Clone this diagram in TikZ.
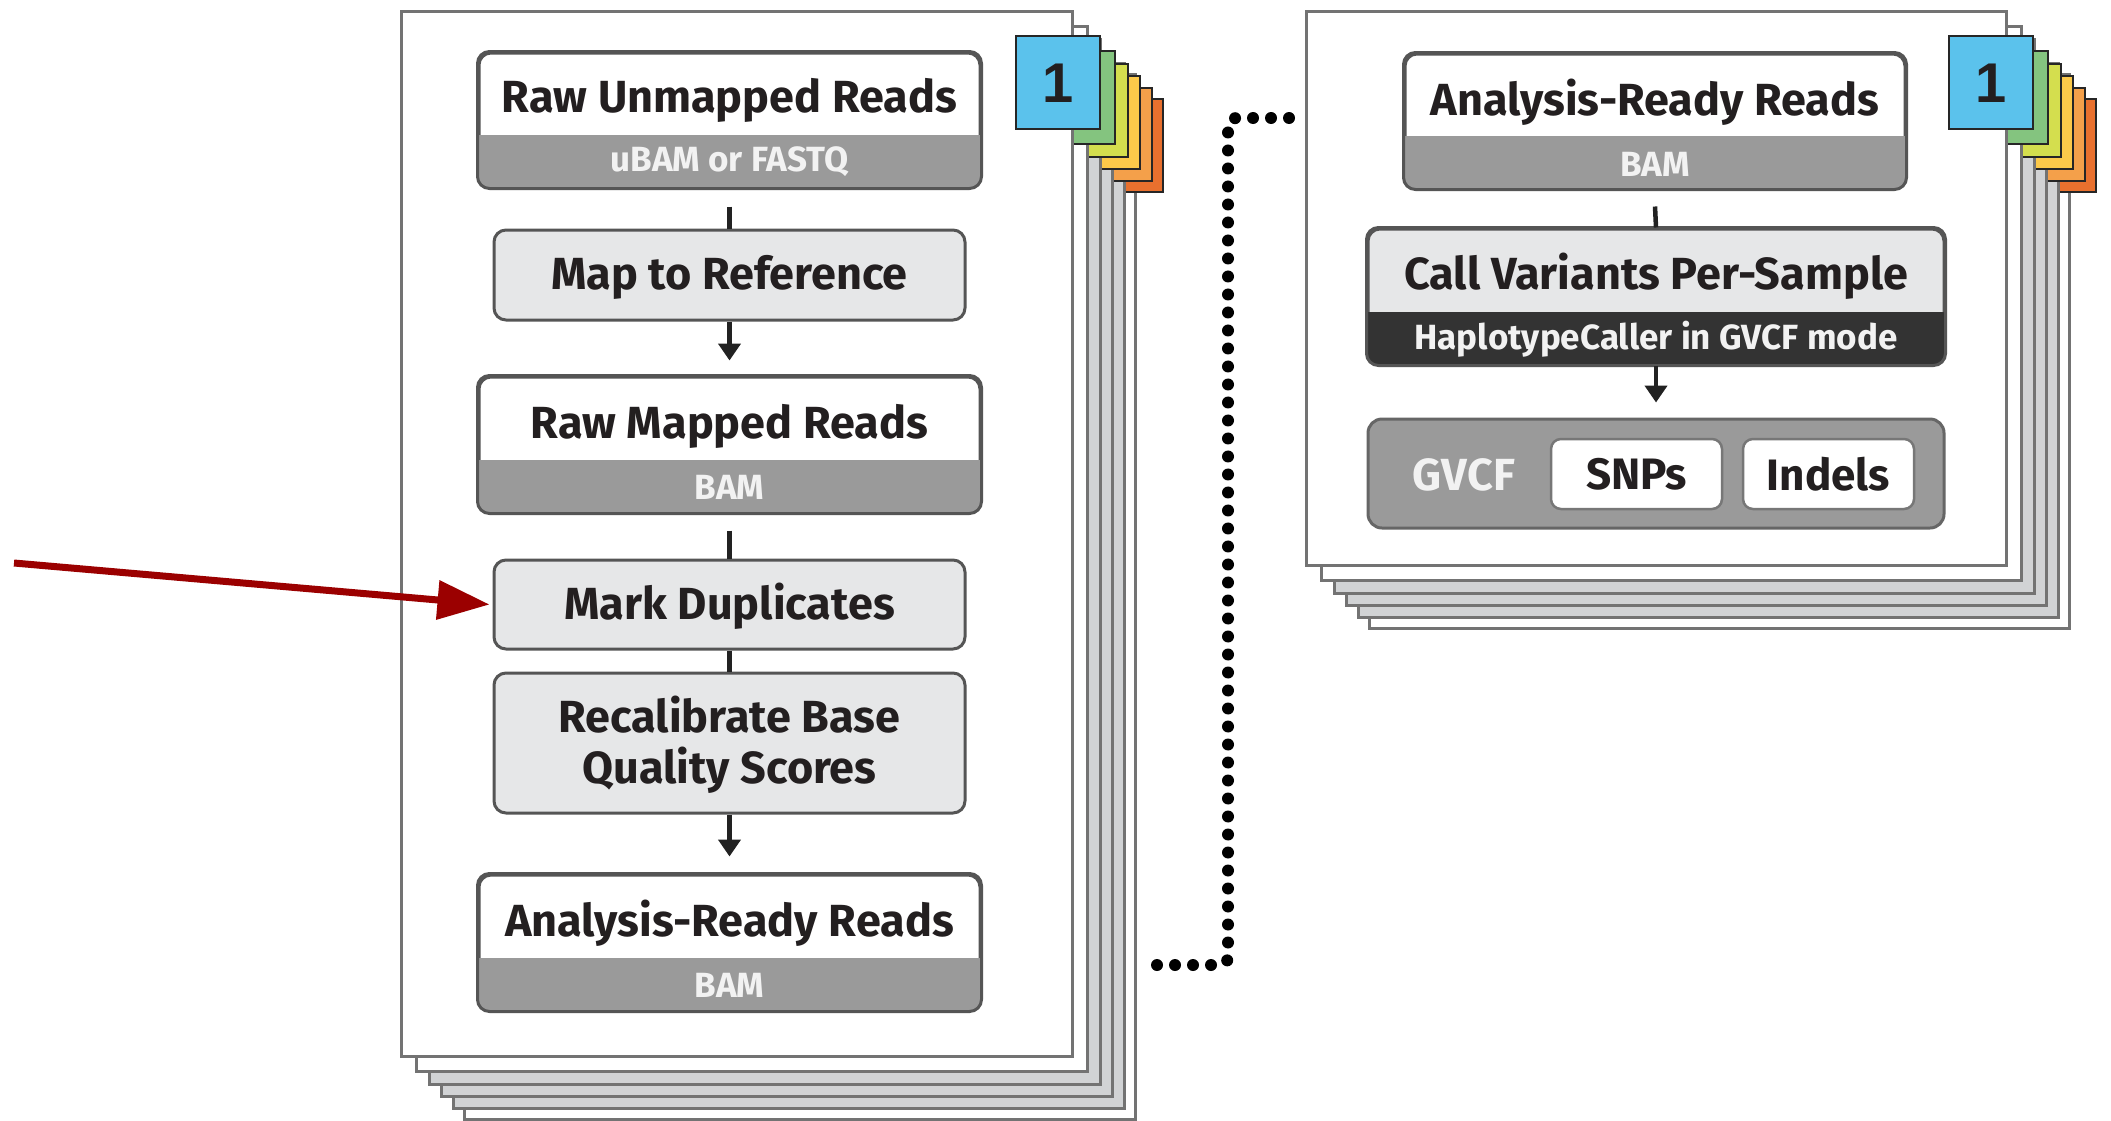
\documentclass[tikz,border=0pt]{standalone}
\usepackage{fontspec}
\setmainfont{Fira Sans}
\newfontfamily\numfont{Liberation Sans}
\usetikzlibrary{arrows.meta}
\definecolor{pageborder}{HTML}{737373}
\definecolor{pagegray}{HTML}{D1D3D5}
\definecolor{boxborder}{HTML}{555555}
\definecolor{procgray}{HTML}{E6E7E8}
\definecolor{bandgray}{HTML}{9A9A9A}
\definecolor{banddark}{HTML}{333333}
\definecolor{textdark}{HTML}{231F20}
\definecolor{connc}{HTML}{222222}
\definecolor{tabA}{HTML}{5BC2EC}
\definecolor{tabB}{HTML}{84C47F}
\definecolor{tabC}{HTML}{D4DE4E}
\definecolor{tabD}{HTML}{FCC94A}
\definecolor{tabE}{HTML}{F4A04A}
\definecolor{tabF}{HTML}{E8702E}
\definecolor{redarr}{HTML}{9B0000}
\tikzset{
  pagebox/.style={draw=pageborder, line width=3pt},
  tabbox/.style={draw=black!85, line width=2.5pt},
  wbox/.style={draw=boxborder, line width=3pt, rounded corners=12pt, fill=white, inner sep=0pt},
  pbox/.style={draw=boxborder, line width=3pt, rounded corners=12pt, fill=procgray, inner sep=0pt},
  gbox/.style={draw=boxborder!90, line width=3pt, rounded corners=14pt, fill=bandgray, inner sep=0pt},
  sbox/.style={draw=boxborder!80, line width=2.5pt, rounded corners=10pt, fill=white, inner sep=0pt,
    minimum width=171pt, minimum height=70pt, font=\fontsize{44}{50}\selectfont\bfseries, text=textdark},
  title/.style={font=\fontsize{45}{51}\selectfont\bfseries, text=textdark, inner sep=0pt, align=center},
  bandtxt/.style={font=\fontsize{35}{40}\selectfont\bfseries, text=white!95!black, inner sep=0pt},
  numtxt/.style={font=\numfont\bfseries\fontsize{56}{56}\selectfont, text=textdark, inner sep=0pt},
  conn/.style={draw=connc, line width=4.5pt},
  arr/.style={conn, -{Triangle[length=17pt,width=22pt]}},
  dotline/.style={draw=black, line width=12pt, line cap=round, dash pattern=on 0pt off 18pt, rounded corners=8pt},
  redarrow/.style={draw=redarr, line width=7pt, -{Triangle[length=52pt,width=38pt]}},
}
\newcommand\mybandfill[3]{%
  \coordinate (bt) at (0,#2);
  \begin{scope}
    \clip[rounded corners=12pt] (#1.south west) rectangle (#1.north east);
    \fill[#3] (#1.south west) rectangle (#1.east |- bt);
  \end{scope}
  \draw[draw=boxborder, line width=3pt, rounded corners=12pt] (#1.south west) rectangle (#1.north east);}
\begin{document}
\begin{tikzpicture}[x=1pt, y=-1pt]
\useasboundingbox (0,0) rectangle (2111,1120);
\fill[white] (0,0) rectangle (2111,1120);

% ---- left stack of pages
\foreach \d/\fc/\tc in {63/white/tabF, 52/pagegray/tabE, 40/pagegray/tabD, 28/pagegray/tabC, 15/white/tabB, 0/white/tabA} {
  \draw[pagebox, fill=\fc] ({401+\d},{11+\d}) rectangle ({1072+\d},{1056+\d});
  \draw[tabbox, fill=\tc] ({1016+\d},{36+\d}) rectangle ({1100+\d},{129+\d});
}
\node[numtxt] (numL) at (1058,83) {1};

% ---- right stack of pages
\foreach \d/\fc/\tc in {63/white/tabF, 52/pagegray/tabE, 40/pagegray/tabD, 28/pagegray/tabC, 15/white/tabB, 0/white/tabA} {
  \draw[pagebox, fill=\fc] ({1306+\d},{11+\d}) rectangle ({2006+\d},{565+\d});
  \draw[tabbox, fill=\tc] ({1949+\d},{36+\d}) rectangle ({2033+\d},{129+\d});
}
\node[numtxt] (numR) at (1991,83) {1};

% ---- left column boxes
\node[wbox, minimum width=501pt, minimum height=134pt] (rur) at (729.5,120) {};
\mybandfill{rur}{135}{bandgray}
\node[title] (rurT) at (729.5,100) {Raw Unmapped Reads};
\node[bandtxt] (rurB) at (729.5,162) {uBAM or FASTQ};

\node[pbox, minimum width=471pt, minimum height=90pt] (map) at (729.5,275) {};
\node[title] (mapT) at (729.5,277) {Map to Reference};

\node[wbox, minimum width=501pt, minimum height=135pt] (rmr) at (729.5,444.5) {};
\mybandfill{rmr}{460}{bandgray}
\node[title] (rmrT) at (729.5,426) {Raw Mapped Reads};
\node[bandtxt] (rmrB) at (729.5,487) {BAM};

\node[pbox, minimum width=471pt, minimum height=89pt] (mdup) at (729.5,604.5) {};
\node[title] (mdupT) at (729.5,606) {Mark Duplicates};

\node[pbox, minimum width=471pt, minimum height=140pt] (bqsr) at (729.5,743) {};
\node[title] (bqsrT) at (729.5,745) {Recalibrate Base\\Quality Scores};

\node[wbox, minimum width=501pt, minimum height=135pt] (arr1) at (729.5,942.5) {};
\mybandfill{arr1}{958}{bandgray}
\node[title] (arr1T) at (729.5,923) {Analysis-Ready Reads};
\node[bandtxt] (arr1B) at (729.5,985) {BAM};

% connectors left
\draw[conn] ([yshift=-18pt]rur.south) -- (map.north);
\draw[arr] (map.south) -- ([yshift=15pt]rmr.north);
\draw[conn] ([yshift=-17pt]rmr.south) -- (mdup.north);
\draw[conn] (mdup.south) -- (bqsr.north);
\draw[arr] (bqsr.south) -- ([yshift=17pt]arr1.north);

% ---- right column boxes
\node[wbox, minimum width=500pt, minimum height=134pt] (arr2) at (1655,121) {};
\mybandfill{arr2}{136}{bandgray}
\node[title] (arr2T) at (1655,102) {Analysis-Ready Reads};
\node[bandtxt] (arr2B) at (1655,164) {BAM};

\node[pbox, minimum width=576pt, minimum height=135pt] (callv) at (1656,296.5) {};
\mybandfill{callv}{312}{banddark}
\node[title] (callvT) at (1656,276) {Call Variants Per-Sample};
\node[bandtxt] (callvB) at (1656,339) {HaplotypeCaller in GVCF mode};

\node[gbox, minimum width=576pt, minimum height=109pt] (gvcf) at (1656,473.5) {};
\node[title, text=white!95!black] (gvcfT) at (1464,475) {GVCF};
\node[sbox] (snps) at (1636.5,474) {SNPs};
\node[sbox] (indels) at (1828.5,474) {Indels};

% connectors right
\draw[conn] ([yshift=-17pt]arr2.south) -- (callv.north);
\draw[arr] (callv.south) -- ([yshift=15pt]gvcf.north);

% ---- dotted link between stacks
\coordinate (dA) at (1157,965);
\coordinate (dB) at (1292,118);
\draw[dotline] (dA) -- (1228,965) -- (1228,118) -- (dB);

% ---- red pointer arrow
\coordinate (redS) at (14,563);
\draw[redarrow] (redS) -- ([xshift=-3pt]mdup.west);
\end{tikzpicture}
\end{document}
